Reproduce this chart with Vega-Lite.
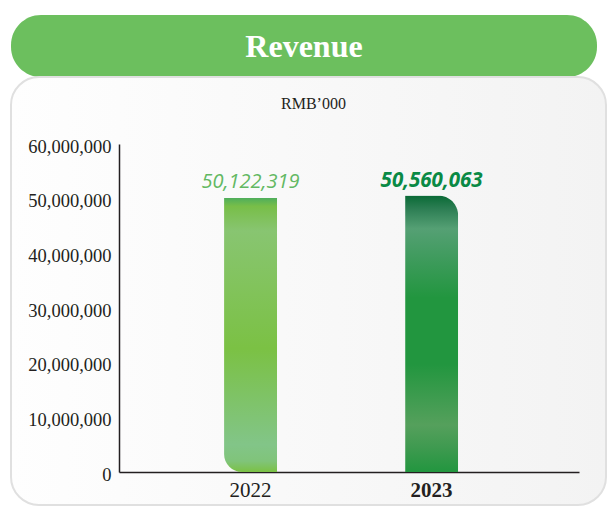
{
  "$schema": "https://vega.github.io/schema/vega-lite/v6.json",
  "background": "white",
  "padding": {"left": 10, "top": 15, "right": 0, "bottom": 0},
  "spacing": 0,
  "bounds": "flush",
  "config": {"view": {"stroke": null}},
  "vconcat": [
    {
      "width": 586,
      "height": 62,
      "view": {"fill": "#6cbf5e", "cornerRadius": 30, "stroke": null},
      "data": {"values": [{"heading": "Revenue"}]},
      "mark": {"type": "text", "font": "Liberation Serif", "fontSize": 32, "fontWeight": "bold", "color": "white", "baseline": "middle", "align": "center", "dy": 1},
      "encoding": {"text": {"field": "heading", "type": "nominal"}}
    },
    {
      "width": 595,
      "height": 428,
      "view": {
        "fill": {"gradient": "linear", "x1": 0, "y1": 0, "x2": 1, "y2": 0, "stops": [{"offset": 0, "color": "#fefefe"}, {"offset": 1, "color": "#f3f3f3"}]},
        "cornerRadius": 28,
        "stroke": "#e0e0e0",
        "strokeWidth": 2
      },
      "data": {"values": [{"year": "2022", "revenue": 50122319}, {"year": "2023", "revenue": 50560063}]},
      "encoding": {
        "x": {
          "field": "year",
          "type": "nominal",
          "scale": {"range": [108, 568], "paddingInner": 0.707, "paddingOuter": 0.624, "align": 0.465},
          "axis": {
            "orient": "bottom",
            "offset": -33,
            "title": null,
            "ticks": false,
            "labelAngle": 0,
            "labelPadding": 7,
            "labelFont": "Liberation Serif",
            "labelFontSize": 21,
            "labelColor": "#231f20",
            "labelFontWeight": {"condition": {"test": "datum.value === '2023'", "value": "bold"}, "value": "normal"},
            "domainColor": "#231f20",
            "domainWidth": 1.5
          }
        },
        "y": {
          "field": "revenue",
          "type": "quantitative",
          "scale": {"domain": [0, 60000000], "range": [395, 67], "nice": false, "zero": true},
          "axis": {
            "orient": "left",
            "offset": -108,
            "values": [0, 10000000, 20000000, 30000000, 40000000, 50000000, 60000000],
            "format": ",d",
            "ticks": false,
            "grid": false,
            "labelPadding": 8,
            "labelOffset": 2,
            "labelFont": "Liberation Serif",
            "labelFontSize": 18.5,
            "labelColor": "#231f20",
            "domainColor": "#231f20",
            "domainWidth": 1.5,
            "title": "RMB’000",
            "titleAngle": 0,
            "titleX": 194,
            "titleY": 26,
            "titleAlign": "center",
            "titleBaseline": "middle",
            "titleFont": "Liberation Serif",
            "titleFontSize": 16,
            "titleFontWeight": "normal",
            "titleColor": "#231f20"
          }
        }
      },
      "layer": [
        {
          "transform": [{"filter": "datum.year === '2022'"}],
          "mark": {
            "type": "bar",
            "cornerRadiusBottomLeft": 18,
            "fill": {"gradient": "linear", "x1": 0, "y1": 0, "x2": 0, "y2": 1, "stops": [
              {"offset": 0, "color": "#4fae5c"},
              {"offset": 0.03, "color": "#78be48"},
              {"offset": 0.12, "color": "#88c571"},
              {"offset": 0.55, "color": "#7bc144"},
              {"offset": 0.9, "color": "#82c588"},
              {"offset": 0.96, "color": "#80c47a"},
              {"offset": 1, "color": "#7bc144"}
            ]}
          }
        },
        {
          "transform": [{"filter": "datum.year === '2023'"}],
          "mark": {
            "type": "bar",
            "cornerRadiusTopRight": 20,
            "fill": {"gradient": "linear", "x1": 0, "y1": 0, "x2": 0, "y2": 1, "stops": [
              {"offset": 0, "color": "#0a6a36"},
              {"offset": 0.05, "color": "#2e7f55"},
              {"offset": 0.12, "color": "#55a074"},
              {"offset": 0.25, "color": "#3a9a58"},
              {"offset": 0.37, "color": "#22963f"},
              {"offset": 0.61, "color": "#22963f"},
              {"offset": 0.83, "color": "#55a05c"},
              {"offset": 0.91, "color": "#3f9a50"},
              {"offset": 1, "color": "#22963f"}
            ]}
          }
        },
        {
          "transform": [{"filter": "datum.year === '2022'"}],
          "mark": {"type": "text", "font": "Open Sans", "fontSize": 20, "fontStyle": "italic", "color": "#62b862", "baseline": "alphabetic", "align": "center", "dy": -10},
          "encoding": {"text": {"field": "revenue", "type": "quantitative", "format": ",d"}}
        },
        {
          "transform": [{"filter": "datum.year === '2023'"}],
          "mark": {"type": "text", "font": "Open Sans", "fontSize": 20.5, "fontStyle": "italic", "fontWeight": "bold", "color": "#0a8a45", "baseline": "alphabetic", "align": "center", "dy": -9},
          "encoding": {"text": {"field": "revenue", "type": "quantitative", "format": ",d"}}
        }
      ]
    }
  ]
}
